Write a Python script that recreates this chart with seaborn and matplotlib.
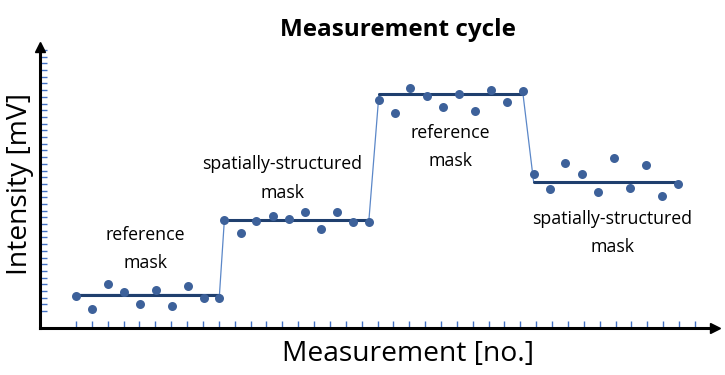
import numpy as np
import pandas as pd
import seaborn as sns
import matplotlib.pyplot as plt

# measurement numbers and intensities for the four phases
x_ref1 = [1.0, 1.98, 2.99, 4.03, 5.04, 6.04, 7.02, 8.03, 9.04, 10.04]
y_ref1 = [3.33, 1.34, 5.11, 3.92, 2.08, 4.22, 1.70, 4.81, 3.03, 3.03]
x_str1 = [10.35, 11.4, 12.36, 13.41, 14.42, 15.43, 16.44, 17.45, 18.45, 19.46]
y_str1 = [14.6, 12.68, 14.46, 15.24, 14.75, 15.79, 13.27, 15.79, 14.25, 14.31]
x_ref2 = [20.09, 21.1, 22.05, 23.12, 24.13, 25.13, 26.14, 27.15, 28.16, 29.17]
y_ref2 = [32.56, 30.63, 34.38, 33.15, 31.42, 33.45, 30.93, 34.09, 32.26, 33.94]
x_str2 = [29.84, 30.87, 31.81, 32.88, 33.89, 34.9, 35.91, 36.92, 37.93, 38.93]
y_str2 = [21.43, 19.2, 23.06, 21.43, 18.8, 23.8, 19.44, 22.77, 18.17, 19.95]

# mean level of each phase
levels = [3.48, 14.65, 33.39, 20.29]
labels = ["reference\nmask", "spatially-structured\nmask",
          "reference\nmask", "spatially-structured\nmask"]
label_pos = [(5.35, 10.3), (14.0, 20.8), (24.6, 25.55), (34.8, 12.65)]

xs = [x_ref1, x_str1, x_ref2, x_str2]
ys = [y_ref1, y_str1, y_ref2, y_str2]

pts = pd.DataFrame({
    "x": np.concatenate(xs),
    "y": np.concatenate(ys),
})

# staircase through the phase levels
step_x, step_y, step_seg = [], [], []
for i, (xx, lvl) in enumerate(zip(xs, levels)):
    step_x += [xx[0], xx[-1]]
    step_y += [lvl, lvl]
    step_seg += [i, i]
steps = pd.DataFrame({"x": step_x, "y": step_y, "seg": step_seg})

sns.set_style("white")
plt.rcParams["font.family"] = ["Open Sans", "DejaVu Sans"]
plt.rcParams["text.color"] = "black"

fig = plt.figure(figsize=(7.25, 3.75), dpi=100)
ax = fig.add_axes([40 / 725, 47 / 375, 672 / 725, 280 / 375])

sns.lineplot(data=steps, x="x", y="y", sort=False, estimator=None,
             color="#5B87C8", lw=0.9, ax=ax)
sns.lineplot(data=steps, x="x", y="y", units="seg", sort=False, estimator=None,
             color="#1F3F6E", lw=2.2, ax=ax)
sns.scatterplot(data=pts, x="x", y="y", color="#3D619A", s=42,
                linewidth=0, zorder=5, ax=ax)

for (tx, ty), lab in zip(label_pos, labels):
    ax.text(tx, ty, lab, ha="center", va="center", fontsize=12.8,
            linespacing=1.75, color="black")

ax.set_xlim(-1.27, 41.08)
ax.set_ylim(-1.52, 40.3)
ax.set_xticks(np.arange(1, 41))
ax.set_yticks(np.arange(1, 41))
ax.tick_params(direction="in", length=5, width=1, colors="#4472C4",
               labelbottom=False, labelleft=False, bottom=True, left=True)

for side in ["top", "right"]:
    ax.spines[side].set_visible(False)
for side in ["left", "bottom"]:
    ax.spines[side].set_color("black")
    ax.spines[side].set_linewidth(2.2)

# arrow heads on the axes
ax.plot(1.005, 0, ">", color="black", ms=7, transform=ax.transAxes, clip_on=False)
ax.plot(0, 1.005, "^", color="black", ms=7, transform=ax.transAxes, clip_on=False)

ax.set_xlabel("")
ax.set_ylabel("")
fig.text(408 / 725, 1 - 354 / 375, "Measurement [no.]", ha="center", va="center",
         fontsize=20.3)
fig.text(20 / 725, 1 - 184 / 375, "Intensity [mV]", ha="center", va="center",
         rotation=90, fontsize=20.3)
fig.text(398 / 725, 1 - 30 / 375, "Measurement cycle", ha="center", va="center",
         fontsize=17.5, fontweight="bold")

fig.savefig("out.png", dpi=100)
